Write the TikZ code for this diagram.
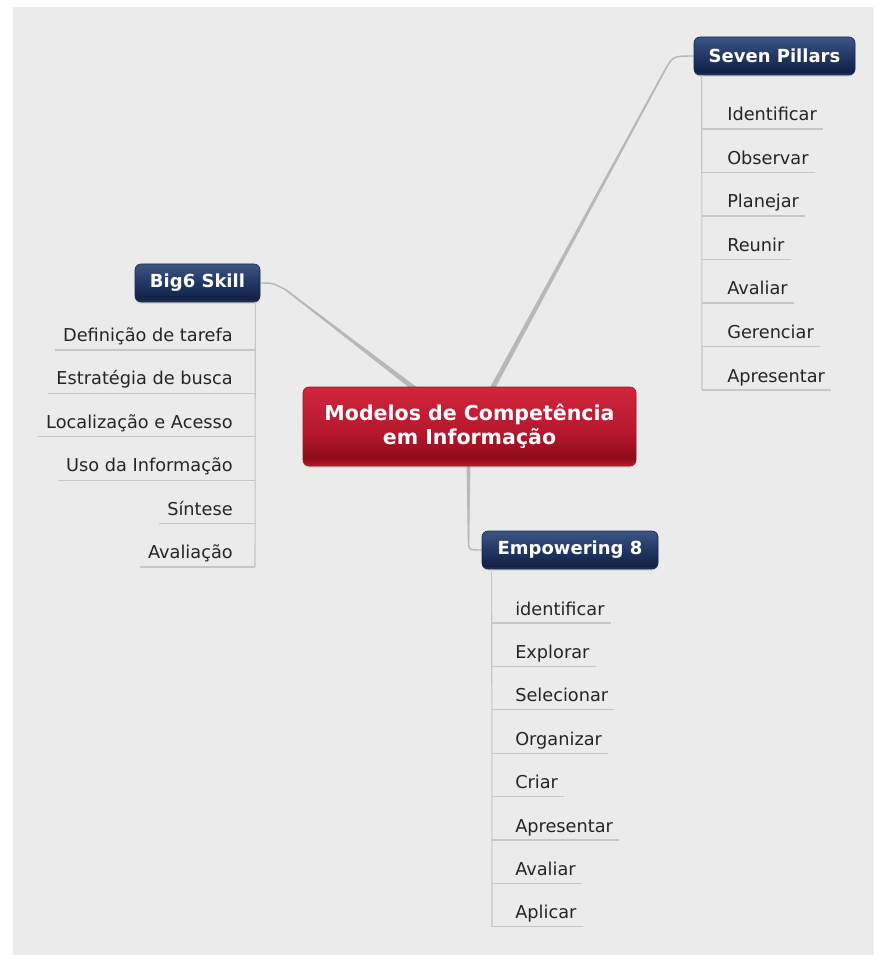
\documentclass[tikz,border=0pt]{standalone}
\usepackage{fontspec}
\setmainfont{DejaVu Sans}
\usetikzlibrary{calc,shadows,backgrounds}
\definecolor{bgray}{HTML}{EBEBEB}
\definecolor{connc}{HTML}{B8B8B8}
\definecolor{ulc}{HTML}{C6C6C6}
\definecolor{leaftxt}{HTML}{252525}
\definecolor{redT}{HTML}{D2263C}
\definecolor{redM}{HTML}{B4172C}
\definecolor{redD}{HTML}{8E0C1B}
\definecolor{redB}{HTML}{B61C2E}
\definecolor{redE}{HTML}{A01224}
\definecolor{bluT}{HTML}{3C5585}
\definecolor{bluM}{HTML}{213765}
\definecolor{bluD}{HTML}{122245}
\definecolor{bluB}{HTML}{2A3E66}
\definecolor{bluE}{HTML}{172850}
\pgfdeclareverticalshading{redgloss}{100bp}{color(0bp)=(redB); color(25bp)=(redB); color(30bp)=(redD); color(45bp)=(redM); color(75bp)=(redT); color(100bp)=(redT)}
\pgfdeclareverticalshading{blugloss}{100bp}{color(0bp)=(bluB); color(25bp)=(bluB); color(29bp)=(bluD); color(50bp)=(bluM); color(75bp)=(bluT); color(100bp)=(bluT)}
\newcommand\taperfill[4]{\fill[connc] ($(#1)!#3!90:(#2)$) -- ($(#2)!#4!-90:(#1)$) -- ($(#2)!#4!90:(#1)$) -- ($(#1)!#3!-90:(#2)$) -- cycle;}
\tikzset{
  rootbox/.style={rounded corners=4.5pt, shading=redgloss, draw=redE, line width=0.5pt,
    minimum width=249.75pt, minimum height=59.25pt, text=white, align=center,
    font=\bfseries\fontsize{15.4}{18}\selectfont,
    drop shadow={shadow xshift=0pt, shadow yshift=-1.2pt, opacity=0.25}},
  branchbox/.style={rounded corners=4.5pt, shading=blugloss, draw=bluE, line width=0.5pt,
    minimum height=28.5pt, text=white, font=\bfseries\fontsize{13.5}{16}\selectfont,
    drop shadow={shadow xshift=0pt, shadow yshift=-1.2pt, opacity=0.25}},
  leaf/.style={inner sep=0pt, text=leaftxt, font=\fontsize{13.3}{16}\selectfont},
  uline/.style={draw=ulc, line width=0.8pt},
  connline/.style={draw=connc, line width=1.1pt}
}
\begin{document}
\begin{tikzpicture}[x=0.75pt,y=-0.75pt]
\useasboundingbox (0,0) rectangle (874,955);
% nodes
\node[rootbox] (root) at (469.5,426.5) {Modelos de Competência\\em Informação};
\node[branchbox, minimum width=120.75pt] (sp) at (774.5,56) {Seven Pillars};
\node[branchbox, minimum width=93.75pt] (big) at (197.5,283) {Big6 Skill};
\node[branchbox, minimum width=132pt] (emp) at (570,550) {Empowering 8};
% leaves: Seven Pillars
\foreach \t [count=\i] in {Identificar,Observar,Planejar,Reunir,Avaliar,Gerenciar,Apresentar}
  \node[leaf, anchor=base west] (sp\i) at (727,{121+43.5*(\i-1)}) {\t};
\foreach \i in {1,...,7}
  \draw[uline] ($(sp\i.base west)+(-25,8)$) -- ($(sp\i.base east)+(6,8)$);
\draw[uline] ($(sp.south west)+(8,0)$) -- ($(sp7.base west)+(-25,8)$);
% leaves: Big6
\foreach \t [count=\i] in {Definição de tarefa,Estratégia de busca,Localização e Acesso,Uso da Informação,Síntese,Avaliação}
  \node[leaf, anchor=base east] (bg\i) at (233,{341.5+43.4*(\i-1)}) {\t};
\foreach \i in {1,...,6}
  \draw[uline] ($(bg\i.base west)+(-8,8.5)$) -- ($(bg\i.base east)+(22,8.5)$);
\draw[uline] ($(big.south east)+(-5,0)$) -- ($(bg6.base east)+(22,8.5)$);
% leaves: Empowering 8
\foreach \t [count=\i] in {identificar,Explorar,Selecionar,Organizar,Criar,Apresentar,Avaliar,Aplicar}
  \node[leaf, anchor=base west] (em\i) at (515,{615+43.4*(\i-1)}) {\t};
\foreach \i in {1,...,8}
  \draw[uline] ($(em\i.base west)+(-23,8)$) -- ($(em\i.base east)+(6,8)$);
\draw[uline] ($(emp.south west)+(10,0)$) -- ($(em8.base west)+(-23,8)$);
% connectors and background
\begin{pgfonlayer}{background}
  \fill[white] (0,0) rectangle (874,955);
  \fill[bgray] (13,7) rectangle (874,955);
  \coordinate (a1) at ($(root.north)+(21,5)$);
  \coordinate (k1) at (665,70);
  \coordinate (a2) at ($(root.north)+(-51,5)$);
  \coordinate (k2) at (286,290);
  \coordinate (a3) at ($(root.south)+(-1,-5)$);
  \coordinate (k3) at (468.5,541);
  \taperfill{a1}{k1}{1.9pt}{0.55pt}
  \taperfill{a2}{k2}{1.9pt}{0.55pt}
  \taperfill{a3}{k3}{1.5pt}{0.55pt}
  \draw[connline] (a1) -- (k1) .. controls (673,56) .. (sp.west);
  \draw[connline] (a2) -- (k2) .. controls (273,283) .. (big.east);
  \draw[connline] (a3) -- (k3) .. controls (468.5,550) .. (emp.west);
\end{pgfonlayer}
\end{tikzpicture}
\end{document}
